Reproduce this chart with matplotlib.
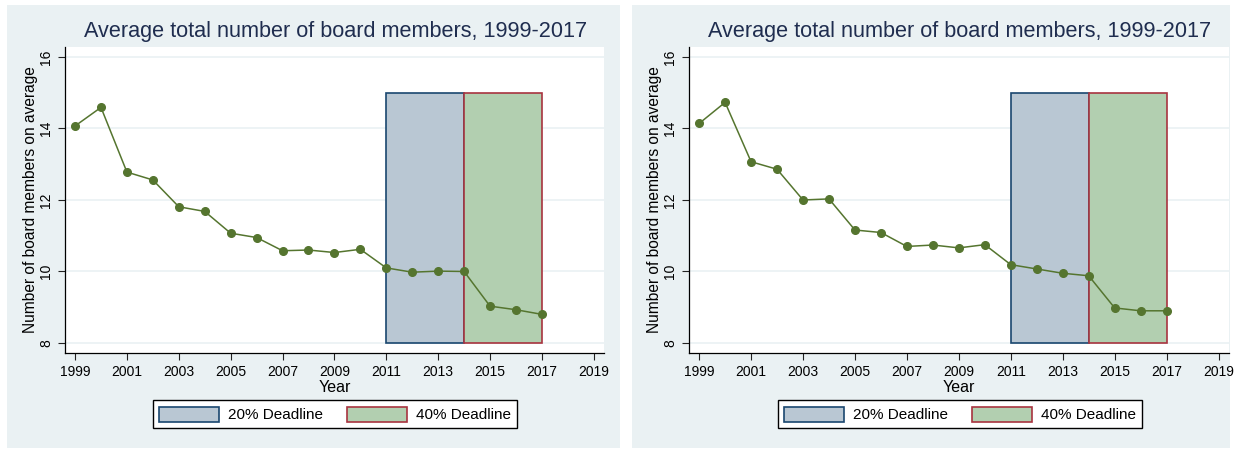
import matplotlib.pyplot as plt
from matplotlib.patches import Rectangle

plt.rcParams['font.family'] = ['Liberation Sans', 'DejaVu Sans']

years = list(range(1999, 2018))
members_left = [14.07, 14.59, 12.78, 12.56, 11.81, 11.68, 11.07, 10.95, 10.58, 10.60,
                10.53, 10.62, 10.10, 9.98, 10.01, 10.00, 9.03, 8.93, 8.80]
members_right = [14.14, 14.73, 13.07, 12.86, 12.00, 12.03, 11.16, 11.09, 10.70, 10.74,
                 10.66, 10.75, 10.19, 10.07, 9.95, 9.88, 8.98, 8.90, 8.90]

title = "Average total number of board members, 1999-2017"
deadlines = [("20% Deadline", 2011, 2014, "#b9c7d3", "#1a476f"),
             ("40% Deadline", 2014, 2017, "#b2cfb0", "#a8343f")]
band_bottom, band_top = 8, 15
xticks = list(range(1999, 2020, 2))
yticks = [8, 10, 12, 14, 16]

bg = "#eaf1f3"
line_col = "#55752f"

fig = plt.figure(figsize=(12.37, 4.5), dpi=100)

# grey panels behind each graph
fig.patches.append(Rectangle((0.0057, 0.0044), 0.4956, 0.984, transform=fig.transFigure,
                             facecolor=bg, edgecolor="none", zorder=-5))
fig.patches.append(Rectangle((0.5109, 0.0044), 0.4835, 0.984, transform=fig.transFigure,
                             facecolor=bg, edgecolor="none", zorder=-5))

panels = [(members_left, 0.0527, 0.4357, 0.271), (members_right, 0.5572, 0.4363, 0.776)]

for values, x0, w, cx in panels:
    ax = fig.add_axes([x0, 0.2156, w, 0.68])
    for y in yticks:
        ax.axhline(y, color=bg, lw=1.2, zorder=0)
    handles = []
    for label, start, end, fc, ec in deadlines:
        r = Rectangle((start, band_bottom), end - start, band_top - band_bottom,
                      facecolor=fc, edgecolor=ec, lw=1.2, zorder=1, label=label)
        ax.add_patch(r)
        handles.append(r)
    ax.plot(years, values, color=line_col, lw=1.1, marker="o", markersize=5.5, zorder=3)

    ax.set_xlim(1998.62, 2019.4)
    ax.set_ylim(7.72, 16.28)
    ax.set_xticks(xticks)
    ax.set_yticks(yticks)
    ax.set_yticklabels([str(t) for t in yticks], rotation=90, va="center")
    ax.tick_params(labelsize=10, length=5, width=0.8, colors="#222222", labelcolor="black")
    for s in ["top", "right"]:
        ax.spines[s].set_visible(False)
    for s in ["left", "bottom"]:
        ax.spines[s].set_linewidth(0.9)
    ax.set_xlabel("Year", fontsize=11.5, labelpad=1)
    ax.set_ylabel("Number of board members on average", fontsize=11.2, labelpad=1)

    fig.text(cx, 0.929, title, ha="center", va="center", fontsize=15.6, color="#1f2d4f")

    leg = fig.legend(handles=handles, loc="center", bbox_to_anchor=(cx, 0.079),
                     ncol=2, fontsize=11, frameon=True, fancybox=False, framealpha=1,
                     handlelength=3.9, handleheight=1.15, columnspacing=1.6,
                     borderpad=0.4, handletextpad=0.6)
    leg.get_frame().set_edgecolor("black")
    leg.get_frame().set_linewidth(1.0)

fig.savefig("out.png", dpi=100, facecolor="white")
